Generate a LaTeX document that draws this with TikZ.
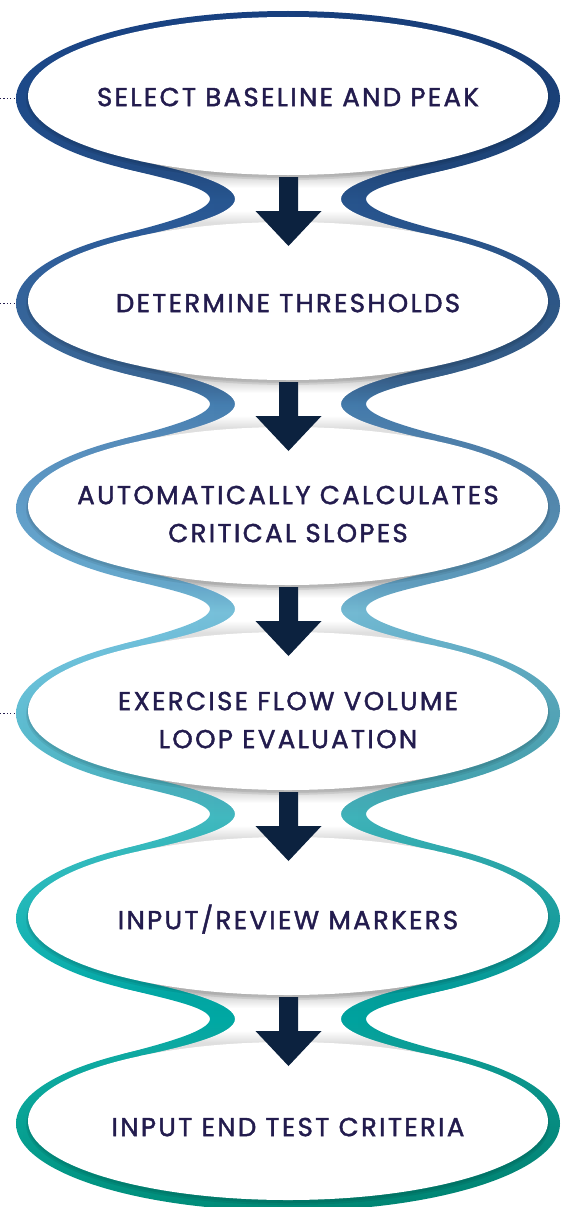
\documentclass[tikz,border=0pt]{standalone}
\usepackage{fontspec}
\setmainfont{Poppins}[LetterSpace=9, FakeBold=1.6]
\usetikzlibrary{fadings}
\definecolor{txt}{HTML}{231C4E}
\definecolor{arr}{HTML}{0C223F}
\definecolor{shT}{HTML}{CBCBCB}
\definecolor{shB}{HTML}{DFDFDF}
\definecolor{b00}{HTML}{1A4588}
\definecolor{b01}{HTML}{1F4B8A}
\definecolor{b02}{HTML}{25508A}
\definecolor{b03}{HTML}{2A5B99}
\definecolor{b04}{HTML}{2E5F9E}
\definecolor{b05}{HTML}{3D6A99}
\definecolor{b06}{HTML}{4A86BB}
\definecolor{b07}{HTML}{5990C0}
\definecolor{b08}{HTML}{6AAED3}
\definecolor{b09}{HTML}{7ECBE6}
\definecolor{b10}{HTML}{74C6E2}
\definecolor{b11}{HTML}{4DB6C4}
\definecolor{b12}{HTML}{45C3CB}
\definecolor{b13}{HTML}{38C0C4}
\definecolor{b14}{HTML}{03AEAB}
\definecolor{b15}{HTML}{00B2AD}
\definecolor{b16}{HTML}{10B0A8}
\definecolor{b17}{HTML}{009480}
\pgfdeclareverticalshading{band}{100bp}{color(0bp)=(b17); color(25bp)=(b17);
 color(31.5bp)=(b16); color(32.75bp)=(b15); color(33.78bp)=(b14); color(40bp)=(b13);
 color(41.16bp)=(b12); color(42.27bp)=(b11); color(48.49bp)=(b10); color(49.65bp)=(b09);
 color(50.77bp)=(b08); color(56.77bp)=(b07); color(58.22bp)=(b06); color(59.26bp)=(b05);
 color(65.47bp)=(b04); color(66.72bp)=(b03); color(67.75bp)=(b02); color(70.86bp)=(b01);
 color(74.59bp)=(b00); color(100bp)=(b00)}
\pgfdeclareverticalshading{neckshade}{100bp}{color(0bp)=(shB); color(34bp)=(shB);
 color(42bp)=(white); color(57bp)=(white); color(67bp)=(shT); color(100bp)=(shT)}
\newcommand\capline[1]{\vrule height 18.3pt depth 0pt width 0pt\smash{#1}}
\newcommand\twolines[2]{\vbox{\baselineskip=38pt\lineskiplimit=-1000pt\lineskip=0pt
  \halign{\hfil##\hfil\cr\capline{#1}\cr\capline{#2}\cr}}}
\begin{document}
\begin{tikzpicture}[x=1pt,y=-1pt,
  lbl/.style={inner sep=0pt, text=txt, font=\fontsize{26}{38}\selectfont},
  dotline/.style={txt, line width=1.3pt, dash pattern=on 1.2pt off 2.2pt},
  blockarrow/.style={fill=arr}]
\useasboundingbox (0,0) rectangle (571,1207);
\fill[white] (0,0) rectangle (571,1207);
% dotted connectors
\coordinate (d1) at (0,98.5);  \coordinate (w1) at (16,98.5);
\coordinate (d2) at (0,303.5); \coordinate (w2) at (16,303.5);
\coordinate (d4) at (0,713.5); \coordinate (w4) at (16,713.5);
\draw[dotline] (d1) -- (w1);
\draw[dotline] (d2) -- (w2);
\draw[dotline] (d4) -- (w4);
% coloured outer ellipses
\foreach \i in {0,...,5}{
  \pgfmathsetmacro\yc{96+205*\i}
  \begin{scope}
    \clip (288,\yc+2.5) ellipse [x radius=272pt, y radius=87.5pt];
    \shade[shading=band] (0,0) rectangle (571,1207);
    \fill[black, opacity=.14, path fading=west] (0,0) rectangle (571,1207);
  \end{scope}
}
% coloured bridges
\foreach \i in {0,...,4}{
  \pgfmathsetmacro\yc{96+205*\i}
  \begin{scope}
    \clip (120,\yc+71.3) .. controls (163.6,\yc+82.3) and (210,\yc+91) .. (210,\yc+103)
       .. controls (210,\yc+115) and (163.6,\yc+127.7) .. (120,\yc+138.7)
       -- (456,\yc+138.7)
       .. controls (412.4,\yc+127.7) and (366,\yc+115) .. (366,\yc+103)
       .. controls (366,\yc+91) and (412.4,\yc+82.3) .. (456,\yc+71.3) -- cycle;
    \shade[shading=band] (0,0) rectangle (571,1207);
    \fill[black, opacity=.14, path fading=west] (0,0) rectangle (571,1207);
  \end{scope}
}
% neck interiors
\foreach \i in {0,...,4}{
  \pgfmathsetmacro\yc{96+205*\i}
  \shade[shading=neckshade] (140,\yc+65) .. controls (193.8,\yc+76.3) and (235,\yc+89) .. (235,\yc+103)
     .. controls (235,\yc+117) and (193.8,\yc+128.7) .. (140,\yc+140)
     -- (436,\yc+140)
     .. controls (382.2,\yc+128.7) and (341,\yc+117) .. (341,\yc+103)
     .. controls (341,\yc+89) and (382.2,\yc+76.3) .. (436,\yc+65) -- cycle;
}
% soft shadows and white inner ellipses
\foreach \i in {0,...,5}{
  \pgfmathsetmacro\yc{96+205*\i}
  \fill[black, opacity=.07] (288,\yc+2) ellipse [x radius=261pt, y radius=80pt];
  \fill[black, opacity=.07] (288,\yc+3.5) ellipse [x radius=262pt, y radius=80.5pt];
  \fill[white] (288,\yc) ellipse [x radius=260pt, y radius=79pt];
}
% block arrows
\foreach \i in {0,...,4}{
  \pgfmathsetmacro\yc{96+205*\i}
  \coordinate (a\i) at (288.5,\yc+81);
  \fill[blockarrow] (a\i) ++(-9.5,0) -- ++(19,0) -- ++(0,34) -- ++(23.5,0)
     -- ++(-33,35) -- ++(-33,-35) -- ++(23.5,0) -- cycle;
}
% labels
\node[lbl] (t1) at (288,97)   {\capline{SELECT BASELINE AND PEAK}};
\node[lbl] (t2) at (288,303)  {\capline{DETERMINE THRESHOLDS}};
\node[lbl] (t3) at (288,514)  {\twolines{AUTOMATICALLY CALCULATES}{CRITICAL SLOPES}};
\node[lbl] (t4) at (288,720)  {\twolines{EXERCISE FLOW VOLUME}{LOOP EVALUATION}};
\node[lbl] (t5) at (288,920)  {\capline{INPUT/REVIEW MARKERS}};
\node[lbl] (t6) at (288,1127) {\capline{INPUT END TEST CRITERIA}};
\end{tikzpicture}
\end{document}
